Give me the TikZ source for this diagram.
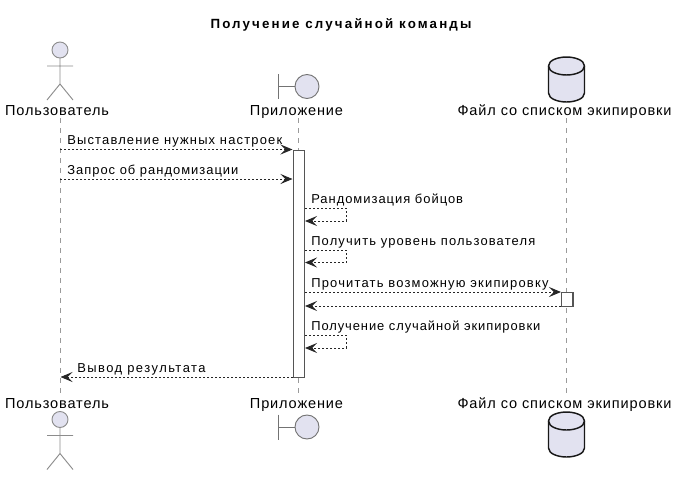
\documentclass[tikz,border=0pt]{standalone}
\usepackage{fontspec}
\setmainfont{Liberation Sans}
\newfontfamily\partfont[LetterSpace=6]{Liberation Sans}
\newfontfamily\lblfont{Liberation Sans}
\newfontfamily\ttlfont[LetterSpace=16]{Liberation Sans Bold}
\newcommand{\spc}[1]{\addfontfeature{LetterSpace=#1}}
\usetikzlibrary{arrows.meta}
\definecolor{partfill}{HTML}{E2E2F0}
\definecolor{partline}{HTML}{181818}
\definecolor{lifecol}{HTML}{9A9A9A}
\definecolor{actcol}{HTML}{555555}
\tikzset{
  part/.style={anchor=base,font=\fontsize{10.9pt}{12pt}\partfont,text=black,inner sep=0pt},
  msg/.style={anchor=base west,font=\fontsize{9.7pt}{12pt}\lblfont,text=black,inner sep=0pt},
  ttl/.style={anchor=base,font=\fontsize{10pt}{12pt}\ttlfont,text=black,inner sep=0pt},
  lifeline/.style={draw=lifecol,line width=.6pt,dash pattern=on 3.75pt off 3.75pt},
  flow/.style={draw=black!85,line width=.7pt,dash pattern=on 1.5pt off 1.5pt,-{Stealth[length=9pt,width=7.5pt,inset=3.6pt]}},
  actbar/.style={draw=actcol,fill=white,line width=1.1pt,minimum width=8.5pt,inner sep=0pt},
  actorline/.style={draw=black!45,line width=.7pt},
  boundline/.style={draw=black!55,line width=.7pt,fill=partfill},
  dbline/.style={draw=partline,line width=1.1pt,fill=partfill},
}
\newcommand{\stick}[2]{%
  \draw[actorline,fill=partfill] (#1,#2) circle (8);
  \draw[actorline] (#1,#2+8) -- (#1,#2+34) (#1-13,#2+16) -- (#1+13,#2+16)
     (#1-13,#2+50) -- (#1,#2+34) -- (#1+13,#2+50);}
\newcommand{\bound}[2]{%
  \draw[boundline] (#1,#2) circle (12);
  \draw[boundline] (#1-28.5,#2-12.5) -- (#1-28.5,#2+12.5) (#1-28.5,#2) -- (#1-12,#2);}
\newcommand{\drum}[2]{%
  \draw[dbline] (#1-18,#2+9) -- (#1-18,#2+36) .. controls (#1-18,#2+42) and (#1-8,#2+45) .. (#1,#2+45) .. controls (#1+8,#2+45) and (#1+18,#2+42) .. (#1+18,#2+36) -- (#1+18,#2+9) .. controls (#1+18,#2+3) and (#1+8,#2) .. (#1,#2) .. controls (#1-8,#2) and (#1-18,#2+3) .. (#1-18,#2+9) -- cycle;
  \draw[dbline,fill=none] (#1-18,#2+9) .. controls (#1-18,#2+15) and (#1-8,#2+18) .. (#1,#2+18) .. controls (#1+8,#2+18) and (#1+18,#2+15) .. (#1+18,#2+9);}
\begin{document}
\begin{tikzpicture}[x=.75pt,y=-.75pt]
\useasboundingbox (0,0) rectangle (678,476);
\node[ttl] (title) at (341,28) {Получение случайной команды};

% lifelines
\coordinate (u0) at (60,118); \coordinate (u1) at (60,394);
\coordinate (a0) at (298,118); \coordinate (a1) at (298,394);
\coordinate (f0) at (566.5,118); \coordinate (f1) at (566.5,394);
\draw[lifeline] (u0) -- (u1);
\draw[lifeline] (a0) -- (a1);
\draw[lifeline] (f0) -- (f1);

% activation bars
\node[actbar,minimum height=170.5pt,anchor=north] (bar) at (299,149.5) {};
\node[actbar,minimum height=10.5pt,anchor=north] (fbar) at (567.2,292) {};

% participants
\stick{60}{50}
\bound{307}{86.5}
\drum{566.5}{57}
\node[part] (pu) at (57,115) {Пользователь};
\node[part] (pa) at (296.5,115) {Приложение};
\node[part] (pf) at (564.5,115) {Файл со списком экипировки};
\node[part] (qu) at (57,408) {Пользователь};
\node[part] (qa) at (296.5,408) {Приложение};
\node[part] (qf) at (564.5,408) {Файл со списком экипировки};
\stick{60}{419.5}
\bound{307}{427}
\drum{566.5}{412}

% messages
\coordinate (m1s) at (60,149.5); \coordinate (m1e) at (292.5,149.5);
\coordinate (m2s) at (60,179);   \coordinate (m2e) at (292.5,179);
\draw[flow] (m1s) -- (m1e);
\draw[flow] (m2s) -- (m2e);
\node[msg] (t1) at (67,144.5) {\spc{9.1}Выставление нужных настроек};
\node[msg] (t2) at (67,174) {\spc{7.8}Запрос об рандомизации};

\coordinate (s1a) at (305,208); \coordinate (s1b) at (346,208); \coordinate (s1c) at (346,221); \coordinate (s1d) at (305,221);
\draw[flow] (s1a) -- (s1b) -- (s1c) -- (s1d);
\node[msg] (t3) at (311,203) {\spc{7.7}Рандомизация бойцов};

\coordinate (s2a) at (305,250); \coordinate (s2b) at (346,250); \coordinate (s2c) at (346,262.5); \coordinate (s2d) at (305,262.5);
\draw[flow] (s2a) -- (s2b) -- (s2c) -- (s2d);
\node[msg] (t4) at (311,245) {\spc{8.8}Получить уровень пользователя};

\coordinate (r1a) at (305,292); \coordinate (r1b) at (561,292);
\coordinate (r2a) at (561,306); \coordinate (r2b) at (305,306);
\draw[flow] (r1a) -- (r1b);
\draw[flow] (r2a) -- (r2b);
\node[msg] (t5) at (311,287.5) {\spc{9.3}Прочитать возможную экипировку};

\coordinate (s3a) at (305,335); \coordinate (s3b) at (346,335); \coordinate (s3c) at (346,348); \coordinate (s3d) at (305,348);
\draw[flow] (s3a) -- (s3b) -- (s3c) -- (s3d);
\node[msg] (t6) at (311,330) {\spc{7.2}Получение случайной экипировки};

\coordinate (e1) at (293,377); \coordinate (e2) at (60.5,377);
\draw[flow] (e1) -- (e2);
\node[msg] (t7) at (77,372) {\spc{11.4}Вывод результата};
\end{tikzpicture}
\end{document}
